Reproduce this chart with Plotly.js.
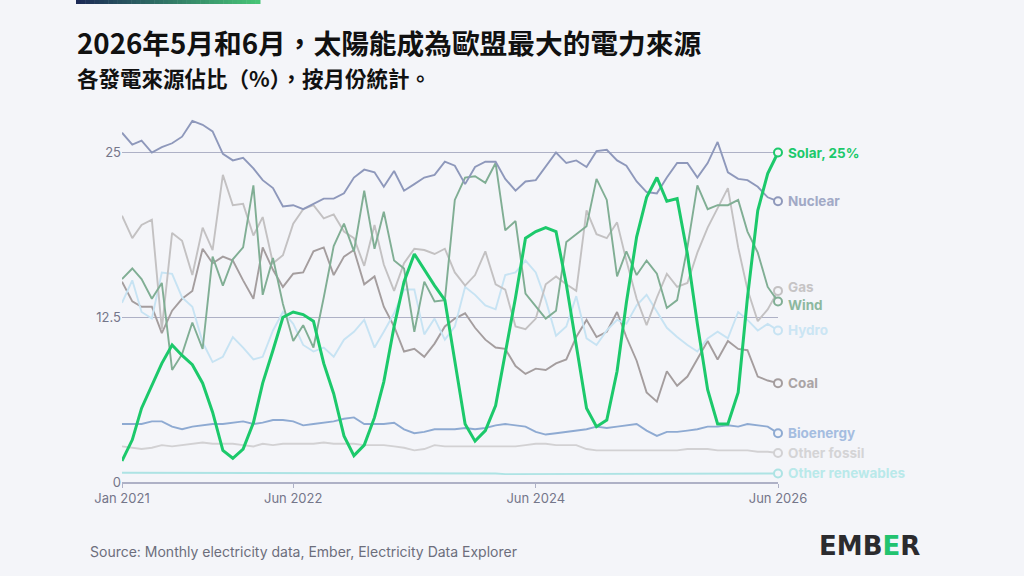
<!DOCTYPE html>
<html>
<head>
<meta charset="utf-8">
<script src="https://cdn.plot.ly/plotly-3.0.1.min.js"></script>
<style>
  html, body { margin: 0; padding: 0; background: #f4f5f9; }
  #chart { width: 1024px; height: 576px; }
</style>
</head>
<body>
<div id="chart"></div>
<script>
// ---- categories: months Jan 2021 .. Jun 2026 ----
const startYear = 2021, startMonth = 1, monthCount = 66;
const months = [];
for (let k = 0; k < monthCount; k++) {
  const y = startYear + Math.floor((startMonth - 1 + k) / 12);
  const m = ((startMonth - 1 + k) % 12) + 1;
  months.push(y + "-" + String(m).padStart(2, "0") + "-01");
}

// ---- tick labels ----
const xTickVals = ["2021-01-01", "2022-06-01", "2024-06-01", "2026-06-01"];
const xTickText = ["Jan 2021", "Jun 2022", "Jun 2024", "Jun 2026"];
const yTickVals = [0, 12.5, 25];
const yTickText = ["0", "12.5", "25"];

// ---- series values (% share of EU electricity) ----
const solar = [1.6,3.2,5.6,7.3,9.0,10.4,9.6,8.9,7.5,5.3,2.4,1.8,
  2.5,4.5,7.5,10.0,12.5,12.9,12.7,12.2,9.0,6.7,3.5,2.0,
  2.8,4.9,7.6,11.8,15.2,17.3,16.1,14.9,13.8,9.1,4.4,3.1,
  3.9,5.8,9.7,14.0,18.5,19.0,19.3,19.0,15.0,10.5,5.6,4.2,
  4.7,8.4,13.6,18.6,21.6,23.1,21.3,21.5,17.3,12.0,7.0,4.4,
  4.4,6.8,14.0,20.6,23.4,25.0];
const nuclear = [26.5,25.6,25.9,25.0,25.4,25.7,26.2,27.4,27.1,26.6,24.9,24.4,
  24.6,23.8,22.9,22.3,20.9,21.0,20.7,21.1,21.5,21.5,21.9,23.1,
  23.7,23.5,22.4,23.6,22.1,22.6,23.1,23.3,24.3,24.0,22.6,23.9,
  24.3,24.3,23.0,22.1,22.8,22.9,23.9,25.0,24.2,24.4,23.9,25.1,
  25.2,24.4,24.0,22.8,22.0,21.9,23.1,24.2,24.2,23.1,24.2,25.8,
  23.5,23.0,22.9,22.4,21.6,21.3];
const gas = [20.2,18.5,19.5,19.9,11.6,18.9,18.3,15.7,19.3,17.6,23.3,21.0,
  21.1,18.7,20.1,16.6,17.2,19.6,20.7,21.0,20.0,20.3,19.0,18.5,
  16.4,19.5,16.5,14.5,16.6,17.7,17.6,17.3,17.7,15.9,14.9,15.7,
  17.5,15.0,14.6,11.8,11.6,12.4,15.0,15.6,15.0,14.5,20.6,18.8,
  18.5,19.7,16.8,13.9,11.9,14.0,15.8,14.8,15.1,17.4,19.3,20.8,
  22.3,17.8,14.6,12.2,13.1,14.5];
const wind = [15.4,16.2,15.4,13.9,15.1,8.5,9.7,12.1,10.1,17.1,14.9,16.9,
  17.8,22.5,14.2,17.0,13.5,10.7,11.9,10.2,14.0,17.9,19.6,17.5,
  22.1,17.7,20.5,16.8,16.2,11.4,15.2,13.7,13.8,21.4,23.1,23.2,
  22.7,24.2,19.1,19.8,14.3,13.3,12.4,13.0,18.2,18.8,19.4,23.0,
  21.4,15.6,17.5,15.7,16.8,15.8,13.2,13.8,17.8,22.5,20.7,21.0,
  21.0,21.4,19.0,17.4,14.8,13.7];
const hydro = [13.6,15.3,12.9,12.4,15.9,15.8,14.0,13.3,10.6,9.1,9.5,11.0,
  10.2,9.3,9.5,11.5,12.9,12.0,10.4,9.9,10.2,9.5,10.8,11.4,
  12.3,10.2,11.4,12.8,14.6,14.6,11.2,12.4,10.8,11.8,14.8,14.2,
  13.4,13.1,15.7,15.9,16.8,15.9,13.8,11.1,11.8,14.1,10.9,10.4,
  11.5,12.3,12.0,13.4,14.2,12.9,11.7,11.0,10.4,9.9,10.9,11.4,
  10.9,12.9,12.3,11.5,12.0,11.5];
const coal = [15.2,13.7,13.3,13.3,11.3,13.0,13.9,14.5,17.7,16.6,17.1,16.8,
  15.3,13.9,17.8,16.1,14.8,15.8,15.9,17.5,17.8,15.7,17.1,17.6,
  15.0,15.6,13.3,11.8,9.9,10.1,9.5,10.5,11.8,12.4,12.8,11.7,
  10.8,10.2,10.1,8.8,8.2,8.6,8.5,9.0,9.3,11.0,12.3,11.0,
  11.4,12.9,11.0,9.2,6.8,6.1,8.4,7.3,8.0,9.3,10.7,9.3,
  10.7,10.1,10.0,8.0,7.7,7.5];
const bioenergy = [4.4,4.4,4.4,4.6,4.6,4.2,4.0,4.2,4.3,4.4,4.4,4.5,
  4.6,4.4,4.5,4.7,4.7,4.6,4.3,4.4,4.5,4.6,4.8,4.9,
  4.4,4.4,4.4,4.5,4.0,3.7,3.8,4.0,4.0,4.0,4.1,4.0,
  4.1,4.3,4.4,4.3,4.2,3.8,3.6,3.7,3.8,3.9,4.0,4.2,
  4.1,4.2,4.3,4.4,3.9,3.5,3.8,3.8,3.9,4.0,4.2,4.2,
  4.3,4.2,4.4,4.3,4.2,3.7];
const otherFossil = [2.7,2.6,2.5,2.6,2.8,2.7,2.8,2.9,3.0,2.9,2.9,2.9,
  2.8,2.7,2.9,2.8,2.9,2.9,2.9,2.9,3.0,2.9,2.9,2.9,
  2.8,2.8,2.8,2.7,2.6,2.4,2.5,2.8,2.7,2.7,2.7,2.7,
  2.7,2.7,2.7,2.7,2.8,2.9,2.9,2.8,2.8,2.8,2.5,2.4,
  2.4,2.4,2.4,2.4,2.4,2.35,2.4,2.4,2.5,2.5,2.5,2.4,
  2.4,2.4,2.4,2.3,2.3,2.2];
const otherRenewables = [0.7,0.7,0.7,0.7,0.7,0.7,0.7,0.7,0.7,0.7,0.7,0.7,
  0.7,0.7,0.7,0.7,0.7,0.7,0.7,0.7,0.7,0.7,0.7,0.7,
  0.7,0.7,0.7,0.7,0.7,0.7,0.7,0.7,0.65,0.65,0.65,0.65,
  0.65,0.65,0.6,0.6,0.6,0.6,0.6,0.6,0.6,0.6,0.6,0.6,
  0.6,0.6,0.6,0.6,0.6,0.6,0.6,0.6,0.6,0.6,0.6,0.6,
  0.6,0.6,0.6,0.6,0.6,0.65];

// ---- series styling (drawing order: back to front) ----
const series = [
  {name: "Other renewables", data: otherRenewables, color: "#ade3e4", text: "#b9e9ea", width: 1.9, dy: 0},
  {name: "Other fossil",     data: otherFossil,     color: "#d2d1d3", text: "#d4d4d6", width: 1.9, dy: 0},
  {name: "Bioenergy",        data: bioenergy,       color: "#8eaad2", text: "#a5bde0", width: 1.9, dy: 0},
  {name: "Coal",             data: coal,            color: "#a49d9e", text: "#aaa4a5", width: 1.9, dy: 0},
  {name: "Hydro",            data: hydro,           color: "#c7e3f3", text: "#cbe5f4", width: 1.9, dy: 0},
  {name: "Gas",              data: gas,             color: "#c3c1c2", text: "#c6c4c5", width: 1.9, dy: 4},
  {name: "Wind",             data: wind,            color: "#80ae94", text: "#8db89f", width: 1.9, dy: -3.5},
  {name: "Nuclear",          data: nuclear,         color: "#8e98bb", text: "#a1a9c6", width: 1.9, dy: 0},
  {name: "Solar",            data: solar,           color: "#1cc96b", text: "#1cc96b", width: 3, dy: 0}
];

const W = 1024, H = 576;
const M = {l: 122, r: 246, t: 117, b: 94};
const plotW = W - M.l - M.r, plotH = H - M.t - M.b;
const px2x = px => (px - M.l) / plotW;
const px2y = py => (H - M.b - py) / plotH;
const BG = "#f4f5f9";
const latin = "Inter, 'Noto Sans', sans-serif";
const cjk = "'Noto Sans CJK TC', 'Noto Sans CJK SC', sans-serif";

const traces = [];
const annotations = [];
const lastX = months[months.length - 1];
series.forEach(s => {
  traces.push({
    type: "scatter", mode: "lines", x: months, y: s.data,
    line: {color: s.color, width: s.width, shape: "linear"},
    hoverinfo: "skip", showlegend: false
  });
  const lastY = s.data[s.data.length - 1];
  traces.push({
    type: "scatter", mode: "markers", x: [lastX], y: [lastY],
    marker: {symbol: "circle", size: 8, color: BG, line: {color: s.color, width: 2}},
    cliponaxis: false, hoverinfo: "skip", showlegend: false
  });
  annotations.push({
    x: lastX, y: lastY, xref: "x", yref: "y",
    text: s.name === "Solar" ? "Solar, " + Math.round(lastY) + "%" : s.name,
    showarrow: false, xanchor: "left", yanchor: "middle",
    xshift: 8, yshift: s.dy,
    font: {family: latin, size: 13.5, color: s.text, weight: 700}
  });
});

// Title, subtitle, source, logo
annotations.push({
  xref: "paper", yref: "paper", x: px2x(75), y: px2y(42), xanchor: "left", yanchor: "middle",
  showarrow: false, text: "2026年5月和6月，太陽能成為歐盟最大的電力來源",
  font: {family: cjk, size: 27.7, color: "#111111", weight: 700}
});
annotations.push({
  xref: "paper", yref: "paper", x: px2x(75), y: px2y(77), xanchor: "left", yanchor: "middle",
  showarrow: false, text: "各發電來源佔比（%），按月份統計。",
  font: {family: cjk, size: 21.5, color: "#111111", weight: 700}
});
annotations.push({
  xref: "paper", yref: "paper", x: px2x(88), y: px2y(551), xanchor: "left", yanchor: "middle",
  showarrow: false, text: "Source: Monthly electricity data, Ember, Electricity Data Explorer",
  font: {family: latin, size: 14, color: "#6c6e7c"}
});
annotations.push({
  xref: "paper", yref: "paper", x: px2x(922), y: px2y(546), xanchor: "right", yanchor: "middle",
  showarrow: false, text: "EMB<span style='color:#22c36f'>E</span>R",
  font: {family: "'DejaVu Sans', sans-serif", size: 26, color: "#2b2b2e", weight: 700}
});

// Top gradient accent bar
const shapes = [];
const gradFrom = [28, 42, 86], gradTo = [70, 196, 118];
const segs = 40, barL = 76, barR = 260;
for (let k = 0; k < segs; k++) {
  const t = k / (segs - 1);
  const c = gradFrom.map((v, j) => Math.round(v + (gradTo[j] - v) * t));
  shapes.push({
    type: "rect", xref: "paper", yref: "paper",
    x0: px2x(barL + (barR - barL) * k / segs), x1: px2x(barL + (barR - barL) * (k + 1) / segs + 0.5),
    y0: px2y(4), y1: px2y(0),
    line: {width: 0}, fillcolor: "rgb(" + c.join(",") + ")", layer: "above"
  });
}

const layout = {
  width: W, height: H,
  margin: M,
  paper_bgcolor: BG, plot_bgcolor: BG,
  showlegend: false, hovermode: false,
  font: {family: latin, color: "#7a7c88"},
  xaxis: {
    type: "date", range: [months[0], lastX],
    tickvals: xTickVals, ticktext: xTickText,
    showgrid: false, zeroline: false,
    showline: true, linecolor: "#aeb1c6", linewidth: 1.5,
    ticks: "outside", ticklen: 4, tickcolor: "#aeb1c6", tickwidth: 1,
    tickfont: {family: latin, size: 13, color: "#74768a"},
    fixedrange: true
  },
  yaxis: {
    range: [0, plotH / 13.18],
    tickvals: yTickVals, ticktext: yTickText,
    showgrid: true, gridcolor: "#aeb1c6", gridwidth: 1.4,
    zeroline: false, showline: false, ticks: "",
    tickfont: {family: latin, size: 13, color: "#74768a"},
    fixedrange: true
  },
  annotations: annotations,
  shapes: shapes
};

Plotly.newPlot("chart", traces, layout, {displayModeBar: false, staticPlot: true});
</script>
</body>
</html>
